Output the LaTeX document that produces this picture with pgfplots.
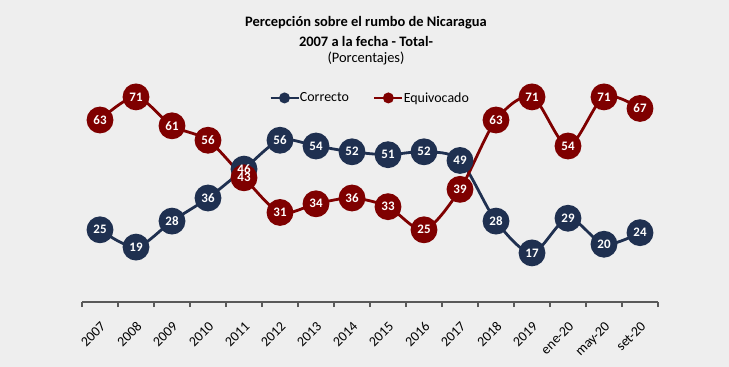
\documentclass[border=0pt]{standalone}
\usepackage{pgfplots}
\pgfplotsset{compat=1.18}
\usepackage{fontspec}
\setmainfont{Carlito}
\definecolor{bg}{HTML}{EEEEEE}
\definecolor{navy}{HTML}{1F3050}
\definecolor{wine}{HTML}{7F0000}
\definecolor{axgray}{HTML}{595959}
\begin{document}
\begin{tikzpicture}
\fill[bg] (0bp,0bp) rectangle (729bp,367bp);
\node[font=\bfseries\fontsize{14.5}{16}\selectfont, anchor=center] at (366bp,344bp) {Percepción sobre el rumbo de Nicaragua};
\node[font=\bfseries\fontsize{14.5}{16}\selectfont, anchor=center] at (366bp,326bp) {2007 a la fecha - Total-};
\node[font=\fontsize{14.5}{16}\selectfont, anchor=center] at (366bp,309bp) {(Porcentajes)};
\begin{axis}[
  at={(82bp,65bp)}, anchor=south west,
  scale only axis, width=576bp, height=231.1bp,
  xmin=-0.5, xmax=15.5, ymin=0, ymax=80,
  axis x line*=bottom, axis y line=none,
  axis line style={axgray, line width=1.8bp},
  xtick={0,...,15},
  xticklabels={2007,2008,2009,2010,2011,2012,2013,2014,2015,2016,2017,2018,2019,ene-20,may-20,set-20},
  major tick length=0pt,
  minor xtick={-0.5,0.5,...,15.5},
  minor tick length=5bp,
  tick align=outside,
  minor tick style={axgray, line width=1.5bp},
  xticklabel style={rotate=45, anchor=north east, font=\fontsize{14}{15}\selectfont, inner sep=1pt, xshift=-12bp, yshift=-12bp},
  legend style={at={(0.5,0.883)}, anchor=center, legend columns=2, draw=none, fill=none,
    font=\fontsize{14}{15}\selectfont, /tikz/every even column/.append style={column sep=22bp},
    /tikz/every odd column/.append style={column sep=-2bp}},
  legend image code/.code={\draw[#1, mark repeat=2, mark phase=2, mark size=4bp] plot coordinates {(0bp,0bp)(14bp,0bp)(28bp,0bp)};},
  /pgf/number format/assume math mode=true,
  clip=false,
]
\addplot[navy, line width=2.8bp, smooth, tension=0.5, mark=*, mark size=12bp, mark options={fill=navy, draw=navy}]
  coordinates {(0,25)(1,19)(2,28)(3,36)(4,46)(5,56)(6,54)(7,52)(8,51)(9,52)(10,49)(11,28)(12,17)(13,29)(14,20)(15,24)};
\addlegendentry{Correcto}
\addplot[wine, line width=2.8bp, smooth, tension=0.5, mark=*, mark size=12bp, mark options={fill=wine, draw=wine}]
  coordinates {(0,63)(1,71)(2,61)(3,56)(4,43)(5,31)(6,34)(7,36)(8,33)(9,25)(10,39)(11,63)(12,71)(13,54)(14,71)(15,67)};
\addlegendentry{Equivocado}
\addplot[draw=none, mark=none, forget plot, nodes near coords,
  every node near coord/.append style={anchor=center, text=white, font=\bfseries\fontsize{13}{14}\selectfont}]
  coordinates {(0,25)(1,19)(2,28)(3,36)(4,46)(5,56)(6,54)(7,52)(8,51)(9,52)(10,49)(11,28)(12,17)(13,29)(14,20)(15,24)};
\addplot[draw=none, mark=none, forget plot, nodes near coords,
  every node near coord/.append style={anchor=center, text=white, font=\bfseries\fontsize{13}{14}\selectfont}]
  coordinates {(0,63)(1,71)(2,61)(3,56)(4,43)(5,31)(6,34)(7,36)(8,33)(9,25)(10,39)(11,63)(12,71)(13,54)(14,71)(15,67)};
\end{axis}
\end{tikzpicture}
\end{document}
